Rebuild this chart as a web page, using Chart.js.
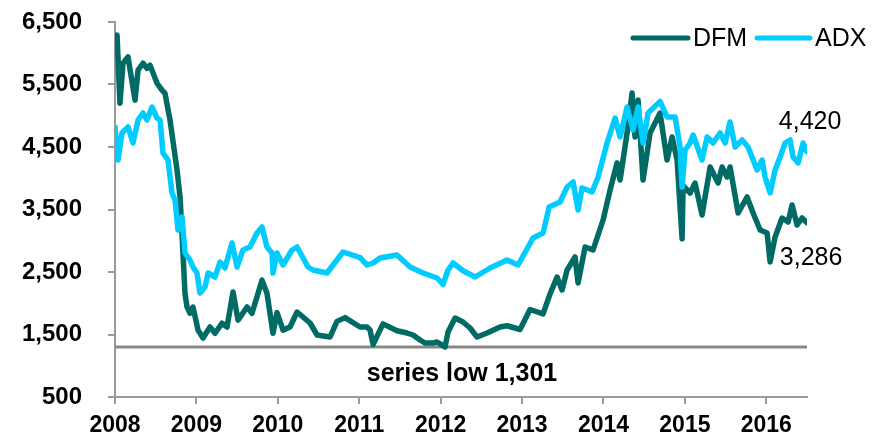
<!DOCTYPE html>
<html>
<head>
<meta charset="utf-8">
<script src="https://cdn.jsdelivr.net/npm/chart.js@4"></script>
<style>
  body { margin: 0; background: #fff; }
  #wrap { width: 872px; height: 436px; position: relative; }
</style>
</head>
<body>
<div id="wrap"><canvas id="chart-dfm-adx"></canvas></div>
<script>
// DFM index, decimal years
const dfmYears = [
  2008.000, 2008.025, 2008.061, 2008.098, 2008.160, 2008.246, 2008.283, 2008.344, 2008.393, 2008.430,
  2008.516, 2008.577, 2008.614, 2008.676, 2008.762, 2008.799, 2008.823, 2008.835, 2008.860, 2008.885,
  2008.921, 2008.958, 2009.020, 2009.081, 2009.167, 2009.229, 2009.314, 2009.376, 2009.450, 2009.511,
  2009.622, 2009.683, 2009.806, 2009.867, 2009.941, 2009.990, 2010.064, 2010.150, 2010.236, 2010.396,
  2010.482, 2010.641, 2010.727, 2010.826, 2011.010, 2011.096, 2011.133, 2011.170, 2011.292, 2011.464,
  2011.587, 2011.661, 2011.747, 2011.808, 2011.907, 2011.956, 2012.054, 2012.091, 2012.177, 2012.275,
  2012.361, 2012.447, 2012.570, 2012.730, 2012.816, 2012.975, 2013.098, 2013.258, 2013.344, 2013.430,
  2013.491, 2013.553, 2013.651, 2013.688, 2013.774, 2013.872, 2013.995, 2014.081, 2014.167, 2014.204,
  2014.290, 2014.351, 2014.388, 2014.425, 2014.486, 2014.572, 2014.695, 2014.781, 2014.843, 2014.904,
  2014.966, 2014.978, 2015.064, 2015.125, 2015.211, 2015.310, 2015.408, 2015.457, 2015.518, 2015.555,
  2015.654, 2015.764, 2015.838, 2015.924, 2016.010, 2016.047, 2016.108, 2016.194, 2016.268, 2016.317,
  2016.378, 2016.440, 2016.501
];
const dfmValues = [
  6050, 6290, 5200, 5840, 5940, 5250, 5730, 5840, 5760, 5810,
  5520, 5410, 5360, 4930, 4130, 3700, 3120, 2800, 2150, 1940,
  1840, 1940, 1570, 1444, 1620, 1520, 1680, 1620, 2180, 1730,
  1940, 1840, 2370, 2160, 1520, 1850, 1570, 1620, 1860, 1684,
  1492, 1460, 1710, 1770, 1620, 1620, 1572, 1340, 1670, 1560,
  1524, 1492, 1412, 1364, 1364, 1380, 1301, 1540, 1764, 1700,
  1604, 1460, 1524, 1620, 1640, 1580, 1900, 1830, 2150, 2420,
  2212, 2532, 2740, 2324, 2900, 2852, 3332, 3812, 4244, 3972,
  4724, 5364, 4660, 5252, 3972, 4724, 5044, 4292, 4660, 4292,
  3030, 3880, 3764, 3924, 3412, 4180, 3924, 4180, 4020, 4180,
  3444, 3700, 3444, 3172, 3124, 2660, 3060, 3364, 3300, 3572,
  3252, 3364, 3286
];

// ADX index, decimal years
const adxYears = [
  2008.000, 2008.037, 2008.086, 2008.160, 2008.221, 2008.283, 2008.344, 2008.393, 2008.455, 2008.516,
  2008.553, 2008.590, 2008.651, 2008.700, 2008.737, 2008.774, 2008.823, 2008.860, 2008.921, 2008.958,
  2009.007, 2009.044, 2009.106, 2009.143, 2009.229, 2009.290, 2009.351, 2009.437, 2009.499, 2009.572,
  2009.658, 2009.744, 2009.806, 2009.867, 2009.929, 2009.941, 2009.990, 2010.064, 2010.174, 2010.236,
  2010.371, 2010.432, 2010.604, 2010.801, 2011.010, 2011.096, 2011.170, 2011.256, 2011.464, 2011.624,
  2011.784, 2011.956, 2012.029, 2012.091, 2012.152, 2012.275, 2012.423, 2012.607, 2012.816, 2012.951,
  2013.135, 2013.258, 2013.332, 2013.467, 2013.553, 2013.627, 2013.688, 2013.737, 2013.860, 2013.934,
  2014.044, 2014.143, 2014.204, 2014.290, 2014.364, 2014.425, 2014.486, 2014.548, 2014.695, 2014.781,
  2014.880, 2014.941, 2014.966, 2015.002, 2015.064, 2015.101, 2015.211, 2015.273, 2015.346, 2015.432,
  2015.494, 2015.555, 2015.617, 2015.703, 2015.776, 2015.887, 2015.948, 2015.985, 2016.047, 2016.108,
  2016.170, 2016.231, 2016.292, 2016.329, 2016.391, 2016.452, 2016.501
];
const adxValues = [
  4820, 4292, 4724, 4820, 4564, 4932, 5044, 4932, 5140, 4964,
  4932, 4404, 4292, 3764, 3652, 3172, 3380, 2804, 2692, 2580,
  2484, 2164, 2260, 2484, 2420, 2660, 2564, 2964, 2580, 2852,
  2900, 3124, 3220, 2900, 2804, 2484, 2804, 2612, 2852, 2900,
  2580, 2532, 2484, 2820, 2730, 2612, 2644, 2724, 2772, 2580,
  2484, 2404, 2300, 2532, 2644, 2520, 2420, 2564, 2692, 2612,
  3044, 3124, 3540, 3620, 3860, 3940, 3492, 3844, 3780, 4020,
  4564, 4964, 4660, 5140, 4772, 5140, 4564, 5044, 5230, 4980,
  4980, 4500, 3860, 4452, 4564, 4692, 4292, 4660, 4564, 4724,
  4564, 4900, 4500, 4612, 4500, 4132, 4292, 4020, 3764, 4132,
  4340, 4564, 4612, 4340, 4244, 4564, 4420
];

const seriesNames = ['DFM', 'ADX'];
const seriesLow = 1301;
const yTicks = [500, 1500, 2500, 3500, 4500, 5500, 6500];
const xTicks = [2008, 2009, 2010, 2011, 2012, 2013, 2014, 2015, 2016];

const FONT = "'Liberation Sans', Arial, sans-serif";
const DFM_COLOR = '#006A64';
const ADX_COLOR = '#00CCFF';
const AXIS_COLOR = '#9A9A9A';

const fmt = v => v.toLocaleString('en-US');

const overlay = {
  id: 'overlay',
  beforeDatasetsDraw(chart) {
    const { ctx, chartArea: a, scales: { y } } = chart;
    const ly = y.getPixelForValue(seriesLow);
    ctx.save();
    ctx.strokeStyle = '#888';
    ctx.lineWidth = 3;
    ctx.beginPath();
    ctx.moveTo(a.left, ly);
    ctx.lineTo(a.right, ly);
    ctx.stroke();
    ctx.restore();
  },
  afterDraw(chart) {
    const { ctx, chartArea: a, scales: { x, y } } = chart;
    ctx.save();
    ctx.fillStyle = '#000';
    ctx.textBaseline = 'middle';

    // series low label
    ctx.font = 'bold 25px ' + FONT;
    ctx.textAlign = 'center';
    ctx.fillText('series low ' + fmt(seriesLow), (a.left + a.right) / 2 + 1, y.getPixelForValue(seriesLow) + 27);

    // end labels
    ctx.font = '25px ' + FONT;
    const ex = x.getPixelForValue(adxYears[adxYears.length - 1]);
    const adxLast = adxValues[adxValues.length - 1];
    const dfmLast = dfmValues[dfmValues.length - 1];
    ctx.fillText(fmt(adxLast), ex + 3, y.getPixelForValue(adxLast) - 30);
    ctx.fillText(fmt(dfmLast), ex + 4, y.getPixelForValue(dfmLast) + 35);

    // legend
    const items = [
      { name: seriesNames[0], color: DFM_COLOR, x0: 633, x1: 688, tx: 693 },
      { name: seriesNames[1], color: ADX_COLOR, x0: 757, x1: 810, tx: 815 }
    ];
    ctx.textAlign = 'left';
    ctx.lineCap = 'round';
    ctx.lineWidth = 5;
    items.forEach(it => {
      ctx.strokeStyle = it.color;
      ctx.beginPath();
      ctx.moveTo(it.x0, 38);
      ctx.lineTo(it.x1, 38);
      ctx.stroke();
      ctx.fillText(it.name, it.tx, 39);
    });
    ctx.restore();
  }
};

new Chart(
  document.getElementById('chart-dfm-adx'),
  {
    type: 'line',
    data: {
      datasets: [
        {
          label: seriesNames[0],
          data: dfmYears.map((yr, i) => ({ x: yr, y: dfmValues[i] })),
          borderColor: DFM_COLOR,
          borderWidth: 5.5,
          pointRadius: 0,
          borderJoinStyle: 'round',
          borderCapStyle: 'round',
          tension: 0,
          order: 1
        },
        {
          label: seriesNames[1],
          data: adxYears.map((yr, i) => ({ x: yr, y: adxValues[i] })),
          borderColor: ADX_COLOR,
          borderWidth: 5.5,
          pointRadius: 0,
          borderJoinStyle: 'round',
          borderCapStyle: 'round',
          tension: 0,
          order: 0
        }
      ]
    },
    options: {
      responsive: true,
      maintainAspectRatio: false,
      animation: false,
      layout: { padding: { top: 22, right: 65, bottom: 0, left: 0 } },
      plugins: { legend: { display: false }, tooltip: { enabled: false } },
      scales: {
        x: {
          type: 'linear',
          min: 2008,
          max: 2016.5,
          afterBuildTicks: s => { s.ticks = xTicks.map(v => ({ value: v })); },
          afterFit: s => { s.height = 39; },
          ticks: {
            callback: v => String(v),
            color: '#000',
            font: { family: FONT, size: 23, weight: 'bold' },
            padding: 8,
            maxRotation: 0
          },
          grid: { drawOnChartArea: false, tickLength: 7, color: AXIS_COLOR, lineWidth: 2 },
          border: { color: AXIS_COLOR, width: 2 }
        },
        y: {
          min: 500,
          max: 6500,
          afterBuildTicks: s => { s.ticks = yTicks.map(v => ({ value: v })); },
          afterFit: s => { s.width = 115; s.paddingTop = 0; s.paddingBottom = 0; },
          ticks: {
            callback: v => fmt(v),
            color: '#000',
            font: { family: FONT, size: 24, weight: 'bold' },
            padding: 26
          },
          grid: { drawOnChartArea: false, tickLength: 7, color: AXIS_COLOR, lineWidth: 2 },
          border: { color: AXIS_COLOR, width: 2 }
        }
      }
    },
    plugins: [overlay]
  }
);
</script>
</body>
</html>
